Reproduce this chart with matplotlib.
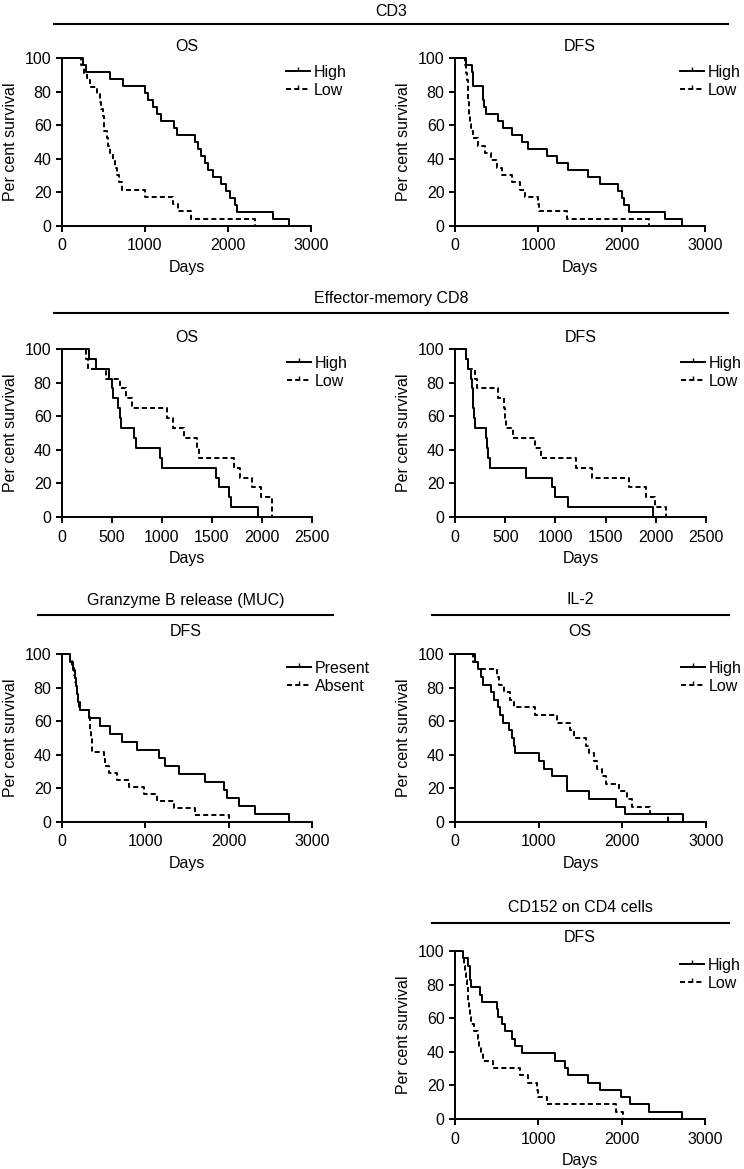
import matplotlib
matplotlib.use('Agg')
import matplotlib.pyplot as plt
from matplotlib.lines import Line2D

plt.rcParams['font.family'] = ['Liberation Sans', 'DejaVu Sans']
plt.rcParams['font.size'] = 11.5

# CD3 - OS
cd3_os_high_t = [0, 250, 290, 580, 740, 1000, 1040, 1100, 1140, 1190, 1350, 1380, 1600, 1640, 1680, 1720, 1760, 1820, 1920, 1980, 2020, 2090, 2110, 2540, 2730]
cd3_os_high_s = [100, 95.8, 91.7, 87.5, 83.3, 79.2, 75, 70.8, 66.7, 62.5, 58.3, 54.2, 50, 45.8, 41.7, 37.5, 33.3, 29.2, 25, 20.8, 16.7, 12.5, 8.3, 4.2, 0]
cd3_os_low_t = [0, 230, 270, 300, 340, 420, 460, 470, 490, 500, 510, 540, 560, 580, 620, 640, 660, 690, 720, 1000, 1340, 1400, 1550, 2330]
cd3_os_low_s = [100, 95.7, 91.3, 87, 82.6, 78.3, 73.9, 69.6, 65.2, 60.9, 56.5, 52.2, 47.8, 43.5, 39.1, 34.8, 30.4, 26.1, 21.7, 17.4, 13, 8.7, 4.3, 0]

# CD3 - DFS
cd3_dfs_high_t = [0, 130, 200, 210, 220, 330, 340, 350, 370, 520, 580, 680, 800, 880, 1100, 1220, 1360, 1600, 1740, 1960, 2000, 2030, 2090, 2520, 2720]
cd3_dfs_high_s = [100, 95.8, 91.7, 87.5, 83.3, 79.2, 75, 70.8, 66.7, 62.5, 58.3, 54.2, 50, 45.8, 41.7, 37.5, 33.3, 29.2, 25, 20.8, 16.7, 12.5, 8.3, 4.2, 0]
cd3_dfs_low_t = [0, 120, 130, 140, 150, 155, 160, 165, 170, 180, 190, 210, 270, 360, 430, 500, 560, 680, 780, 840, 1000, 1010, 1340, 2330]
cd3_dfs_low_s = [100, 95.7, 91.3, 87, 82.6, 78.3, 73.9, 69.6, 65.2, 60.9, 56.5, 52.2, 47.8, 43.5, 39.1, 34.8, 30.4, 26.1, 21.7, 17.4, 13, 8.7, 4.3, 0]

# Effector-memory CD8 - OS
em_os_high_t = [0, 270, 340, 470, 500, 510, 560, 580, 590, 720, 740, 980, 1000, 1540, 1570, 1670, 1690, 1960]
em_os_high_s = [100, 94.1, 88.2, 82.4, 76.5, 70.6, 64.7, 58.8, 52.9, 47.1, 41.2, 35.3, 29.4, 23.5, 17.6, 11.8, 5.9, 0]
em_os_low_t = [0, 240, 260, 440, 580, 640, 700, 1050, 1110, 1220, 1350, 1370, 1720, 1780, 1900, 1990, 2100]
em_os_low_s = [100, 94.1, 88.2, 82.4, 76.5, 70.6, 64.7, 58.8, 52.9, 47.1, 41.2, 35.3, 29.4, 23.5, 17.6, 11.8, 0]

# Effector-memory CD8 - DFS
em_dfs_high_t = [0, 110, 130, 160, 170, 175, 180, 190, 200, 310, 320, 330, 345, 710, 970, 1000, 1130, 1970]
em_dfs_high_s = [100, 94.1, 88.2, 82.4, 76.5, 70.6, 64.7, 58.8, 52.9, 47.1, 41.2, 35.3, 29.4, 23.5, 17.6, 11.8, 5.9, 0]
em_dfs_low_t = [0, 110, 130, 200, 215, 430, 490, 500, 510, 580, 800, 860, 1210, 1360, 1730, 1900, 1990, 2100]
em_dfs_low_s = [100, 94.1, 88.2, 82.4, 76.5, 70.6, 64.7, 58.8, 52.9, 47.1, 41.2, 35.3, 29.4, 23.5, 17.6, 11.8, 5.9, 0]

# Granzyme B release (MUC) - DFS
gzb_present_t = [0, 100, 130, 150, 170, 180, 190, 210, 320, 460, 580, 720, 900, 1160, 1240, 1400, 1720, 1940, 1980, 2120, 2320, 2720]
gzb_present_s = [100, 95.2, 90.5, 85.7, 81, 76.2, 71.4, 66.7, 61.9, 57.1, 52.4, 47.6, 42.9, 38.1, 33.3, 28.6, 23.8, 19, 14.3, 9.5, 4.8, 0]
gzb_absent_t = [0, 100, 120, 140, 160, 170, 180, 190, 200, 320, 330, 340, 350, 355, 360, 500, 520, 560, 660, 800, 980, 1140, 1340, 1600, 2010]
gzb_absent_s = [100, 95.8, 91.7, 87.5, 83.3, 79.2, 75, 70.8, 66.7, 62.5, 58.3, 54.2, 50, 45.8, 41.7, 37.5, 33.3, 29.2, 25, 20.8, 16.7, 12.5, 8.3, 4.2, 0]

# IL-2 - OS
il2_high_t = [0, 240, 270, 310, 340, 430, 470, 510, 540, 570, 640, 680, 700, 720, 1000, 1060, 1160, 1340, 1600, 1930, 2030, 2720]
il2_high_s = [100, 95.5, 90.9, 86.4, 81.8, 77.3, 72.7, 68.2, 63.6, 59.1, 54.5, 50, 45.5, 40.9, 36.4, 31.8, 27.3, 18.2, 13.6, 9.1, 4.5, 0]
il2_low_t = [0, 210, 275, 500, 520, 580, 660, 700, 960, 1220, 1380, 1420, 1570, 1600, 1660, 1700, 1760, 1800, 1960, 2060, 2110, 2330, 2550]
il2_low_s = [100, 95.5, 90.9, 86.4, 81.8, 77.3, 72.7, 68.2, 63.6, 59.1, 54.5, 50, 45.5, 40.9, 36.4, 31.8, 27.3, 22.7, 18.2, 13.6, 9.1, 4.5, 0]

# CD152 on CD4 cells - DFS
cd152_high_t = [0, 100, 150, 180, 185, 190, 300, 320, 500, 520, 560, 600, 680, 720, 800, 1200, 1320, 1360, 1600, 1740, 1990, 2100, 2330, 2720]
cd152_high_s = [100, 95.7, 91.3, 87, 82.6, 78.3, 73.9, 69.6, 65.2, 60.9, 56.5, 52.2, 47.8, 43.5, 39.1, 34.8, 30.4, 26.1, 21.7, 17.4, 13, 8.7, 4.3, 0]
cd152_low_t = [0, 95, 110, 120, 130, 140, 150, 160, 170, 180, 190, 230, 270, 290, 310, 340, 460, 780, 880, 980, 1000, 1100, 1930, 2010]
cd152_low_s = [100, 95.7, 91.3, 87, 82.6, 78.3, 73.9, 69.6, 65.2, 60.9, 56.5, 52.2, 47.8, 43.5, 39.1, 34.8, 30.4, 26.1, 21.7, 17.4, 13, 8.7, 4.3, 0]

W, H = 744, 1169
fig = plt.figure(figsize=(W / 100, H / 100), dpi=100)
DASH = (0, (2.6, 1.6))


def px_axes(l, r, t, b):
    return fig.add_axes([l / W, 1 - b / H, (r - l) / W, (b - t) / H])


def km_panel(box, xmax, title, solid, dashed, labels, leg_x=0.90):
    ax = px_axes(*box)
    ax.step(solid[0], solid[1], where='post', color='black', lw=1.4, clip_on=False)
    ax.step(dashed[0], dashed[1], where='post', color='black', lw=1.4, ls=DASH, clip_on=False)
    ax.set_xlim(0, xmax)
    ax.set_ylim(0, 100)
    step = 1000 if xmax == 3000 else 500
    ax.set_xticks(range(0, xmax + 1, step))
    ax.set_yticks([0, 20, 40, 60, 80, 100])
    for s in ['top', 'right']:
        ax.spines[s].set_visible(False)
    for s in ['left', 'bottom']:
        ax.spines[s].set_linewidth(1.4)
    ax.tick_params(direction='out', length=4, width=1.4)
    ax.tick_params(axis='x', pad=5)
    ax.tick_params(axis='y', pad=3.5)
    ax.set_xlabel('Days', labelpad=5)
    ax.set_ylabel('Per cent survival', labelpad=5)
    ax.set_title(title, fontsize=11.5, pad=5)
    handles = [Line2D([], [], color='black', lw=1.4, marker=2, markersize=3),
               Line2D([], [], color='black', lw=1.4, ls=DASH, marker=2, markersize=3)]
    ax.legend(handles, labels, loc='upper left', bbox_to_anchor=(leg_x, 0.96),
              frameon=False, handlelength=1.5, handletextpad=0.25,
              labelspacing=0.2, borderpad=0, borderaxespad=0, numpoints=1)
    return ax


def header(text, x0, x1, y_line, y_text):
    fig.add_artist(Line2D([x0 / W, x1 / W], [1 - y_line / H, 1 - y_line / H],
                          color='black', lw=1.5))
    fig.text((x0 + x1) / 2 / W, 1 - y_text / H, text, ha='center', va='center')


hl = ['High', 'Low']
km_panel((62, 311, 58, 226), 3000, 'OS', (cd3_os_high_t, cd3_os_high_s), (cd3_os_low_t, cd3_os_low_s), hl)
km_panel((455, 705, 58, 226), 3000, 'DFS', (cd3_dfs_high_t, cd3_dfs_high_s), (cd3_dfs_low_t, cd3_dfs_low_s), hl)
km_panel((62, 312, 349, 517), 2500, 'OS', (em_os_high_t, em_os_high_s), (em_os_low_t, em_os_low_s), hl)
km_panel((455, 706, 349, 517), 2500, 'DFS', (em_dfs_high_t, em_dfs_high_s), (em_dfs_low_t, em_dfs_low_s), hl)
km_panel((62, 312, 654, 822), 3000, '', (gzb_present_t, gzb_present_s), (gzb_absent_t, gzb_absent_s), ['Present', 'Absent'])
km_panel((455, 706, 654, 822), 3000, '', (il2_high_t, il2_high_s), (il2_low_t, il2_low_s), hl)
km_panel((455, 705, 951, 1119), 3000, '', (cd152_high_t, cd152_high_s), (cd152_low_t, cd152_low_s), hl)

header('CD3', 54, 728, 24, 11)
header('Effector-memory CD8', 54, 728, 313, 299)
header('Granzyme B release (MUC)', 38, 333, 615, 600)
header('IL-2', 432, 729, 615, 600)
header('CD152 on CD4 cells', 432, 729, 923, 907)
fig.text(186 / W, 1 - 632 / H, 'DFS', ha='center', va='center')
fig.text(580 / W, 1 - 632 / H, 'OS', ha='center', va='center')
fig.text(580 / W, 1 - 938 / H, 'DFS', ha='center', va='center')

fig.savefig('out.png', dpi=100)
